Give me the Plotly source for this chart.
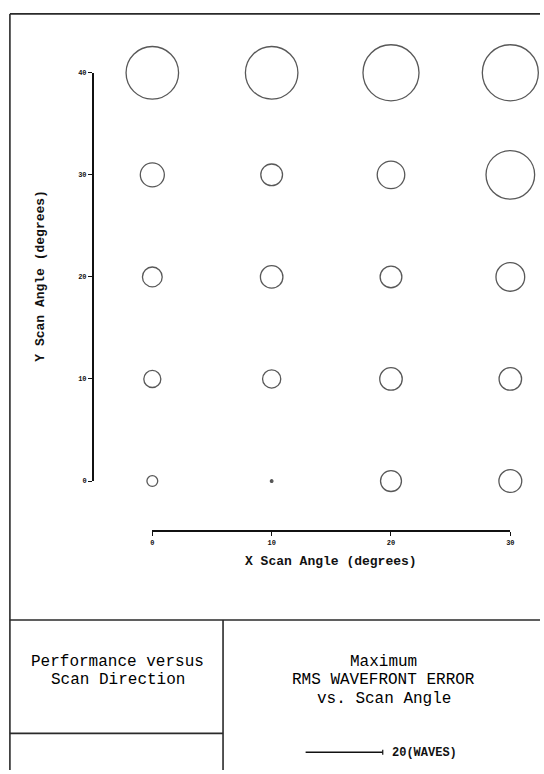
import plotly.graph_objects as go

# ---- data ----
X_ANGLES = [0, 10, 20, 30]            # X scan angle (degrees)
Y_ANGLES = [0, 10, 20, 30, 40]        # Y scan angle (degrees)
# Maximum RMS wavefront error (waves) per Y row, for each X angle
RMS_Y0 = [3.1, 1.0, 5.7, 6.2]
RMS_Y10 = [4.7, 5.0, 6.1, 6.1]
RMS_Y20 = [5.4, 6.1, 5.9, 7.7]
RMS_Y30 = [6.5, 5.9, 7.4, 12.8]
RMS_Y40 = [13.8, 13.8, 14.7, 14.7]
X_TICKS = [0, 10, 20, 30]
Y_TICKS = [0, 10, 20, 30, 40]
SCALE_WAVES = 20
LEFT_TITLE = ["Performance versus", "Scan Direction"]
RIGHT_TITLE = ["Maximum", "RMS WAVEFRONT ERROR", "vs. Scan Angle"]

W, H = 544, 774
PX_PER_WAVE = 78 / SCALE_WAVES
FONT = "Liberation Mono, Courier New, monospace"
LW = 1.3

rows = [RMS_Y0, RMS_Y10, RMS_Y20, RMS_Y30, RMS_Y40]
xs, ys, vals = [], [], []
for yv, row in zip(Y_ANGLES, rows):
    for xv, v in zip(X_ANGLES, row):
        xs.append(xv)
        ys.append(yv)
        vals.append(v)
sizes = [max(v * PX_PER_WAVE - LW, 2) for v in vals]
symbols = ["circle" if v * PX_PER_WAVE < 6 else "circle-open" for v in vals]

fig = go.Figure()
fig.add_trace(go.Scatter(
    x=xs, y=ys, mode="markers", cliponaxis=False,
    marker=dict(symbol=symbols, size=sizes, color="#111",
                line=dict(width=LW, color="#111")),
    hoverinfo="text",
    text=[f"X={a}°, Y={b}°: {v} waves" for a, b, v in zip(xs, ys, vals)],
    showlegend=False,
))

def px(x):
    return x / W

def py(y):
    return 1 - y / H

LINE = dict(color="#2a2a2a", width=1.6)
shapes = [
    # outer frame / title block
    dict(type="line", xref="paper", yref="paper", x0=px(8), x1=px(544), y0=py(10), y1=py(10), line=LINE),
    dict(type="line", xref="paper", yref="paper", x0=px(8), x1=px(8), y0=py(10), y1=py(774), line=LINE),
    dict(type="line", xref="paper", yref="paper", x0=px(8), x1=px(544), y0=py(622.5), y1=py(622.5), line=LINE),
    dict(type="line", xref="paper", yref="paper", x0=px(223.5), x1=px(223.5), y0=py(622.5), y1=py(774), line=LINE),
    dict(type="line", xref="paper", yref="paper", x0=px(8), x1=px(223.5), y0=py(737), y1=py(737), line=LINE),
]
# scale bar (length = SCALE_WAVES waves)
bar_x0 = 307
bar_x1 = bar_x0 + SCALE_WAVES * PX_PER_WAVE
shapes.append(dict(type="line", xref="paper", yref="paper", x0=px(bar_x0), x1=px(bar_x1),
                   y0=py(756), y1=py(756), line=dict(color="#111", width=1.4)))
shapes.append(dict(type="line", xref="paper", yref="paper", x0=px(bar_x1), x1=px(bar_x1),
                   y0=py(753.5), y1=py(758.5), line=dict(color="#111", width=1.2)))

annotations = [
    dict(text="<b>X Scan Angle (degrees)</b>", x=px(333), y=py(563), xref="paper", yref="paper",
         showarrow=False, font=dict(family=FONT, size=13, color="#111"), xanchor="center", yanchor="middle"),
    dict(text="<b>Y Scan Angle (degrees)</b>", x=px(39), y=py(275), xref="paper", yref="paper",
         showarrow=False, textangle=-90, font=dict(family=FONT, size=13, color="#111"),
         xanchor="center", yanchor="middle"),
    dict(text=f"<b>{SCALE_WAVES}(WAVES)</b>", x=px(bar_x1 + 7), y=py(757), xref="paper", yref="paper",
         showarrow=False, font=dict(family=FONT, size=12, color="#111"), xanchor="left", yanchor="middle"),
]
for i, line in enumerate(LEFT_TITLE):
    annotations.append(dict(text=line, x=px(117), y=py(665 + 18.5 * i), xref="paper", yref="paper",
                            showarrow=False, font=dict(family=FONT, size=16, color="#000"),
                            xanchor="center", yanchor="middle"))
for i, line in enumerate(RIGHT_TITLE):
    annotations.append(dict(text=line, x=px(386), y=py(665 + 18.5 * i), xref="paper", yref="paper",
                            showarrow=False, font=dict(family=FONT, size=16, color="#000"),
                            xanchor="center", yanchor="middle"))

fig.update_layout(
    width=W, height=H,
    margin=dict(l=0, r=0, t=0, b=0),
    paper_bgcolor="white", plot_bgcolor="white",
    shapes=shapes, annotations=annotations,
    xaxis=dict(domain=[px(152), px(514)], range=[0, 30], anchor="free", position=py(533),
               showgrid=False, zeroline=False, showline=True, linecolor="#111", linewidth=2,
               ticks="outside", ticklen=4, tickwidth=1.3, tickcolor="#111",
               tickvals=X_TICKS, ticktext=[f"<b>{t}</b>" for t in X_TICKS],
               tickfont=dict(family=FONT, size=7, color="#111"), fixedrange=True),
    yaxis=dict(domain=[py(482), py(69.5)], range=[0, 40], anchor="free", position=px(92),
               showgrid=False, zeroline=False, showline=True, linecolor="#111", linewidth=2,
               ticks="outside", ticklen=4, tickwidth=1.3, tickcolor="#111",
               tickvals=Y_TICKS, ticktext=[f"<b>{t}</b>" for t in Y_TICKS],
               tickfont=dict(family=FONT, size=7, color="#111"), fixedrange=True),
)

fig.write_html(
    "out.html",
    config={"displayModeBar": False},
    post_script="document.body.style.margin='0';document.body.style.overflow='hidden';",
)
